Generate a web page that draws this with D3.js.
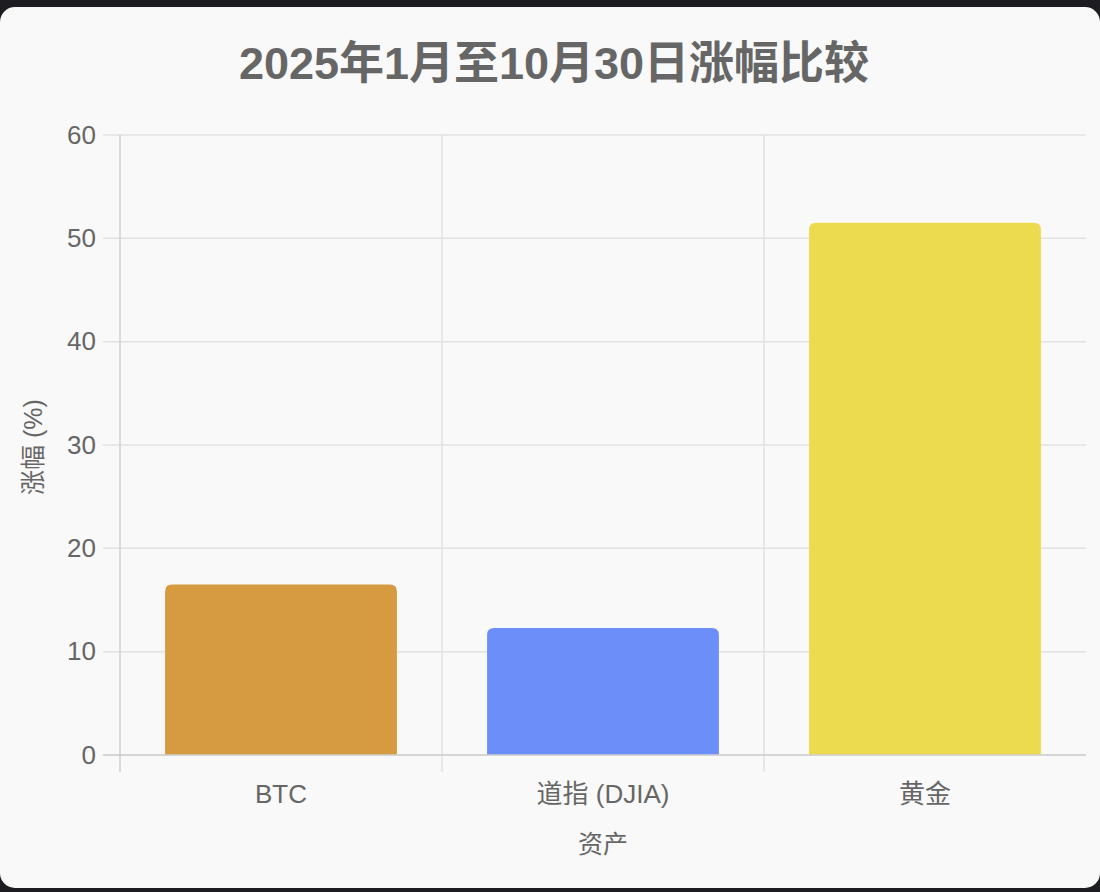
<!DOCTYPE html>
<html>
<head>
<meta charset="utf-8">
<script src="https://cdn.jsdelivr.net/npm/d3@7"></script>
<style>
  html, body { margin: 0; padding: 0; background: #1c1c21; }
  svg { display: block; }
  text { font-family: "Liberation Sans", "Noto Sans CJK SC", sans-serif; fill: #666; }
</style>
</head>
<body>
<svg id="chart"></svg>
<script>
var categories = ['BTC', '道指 (DJIA)', '黄金'];
var gains = [16.5, 12.3, 51.5];
var barColors = ['#D69B40', '#6B8EF8', '#EDDB4F'];
var yTicks = [0, 10, 20, 30, 40, 50, 60];

var $svg = {width: 1100, height: 892};
var margin = {left: 120, right: 1086, top: 135, bottom: 755};

function init () {
    $svg.main = (
        d3.select('svg#chart')
        .attr('width', $svg.width)
        .attr('height', $svg.height)
    );

    // card
    $svg.main.append('rect')
        .attr('x', 0).attr('y', 7)
        .attr('width', 1100).attr('height', 881)
        .attr('rx', 15)
        .attr('fill', '#f9f9f9');

    var x = d3.scaleBand()
        .domain(categories)
        .range([margin.left, margin.right]);
    var y = d3.scaleLinear()
        .domain([0, 60])
        .range([margin.bottom, margin.top]);

    drawGrid(x, y);
    drawBars(x, y);
    drawAxes(x, y);
    drawTexts();
}

function drawGrid (x, y) {
    var g = $svg.main.append('g');
    g.selectAll('line.h')
        .data(yTicks)
        .enter().append('line')
        .attr('x1', margin.left - 17)
        .attr('x2', margin.right)
        .attr('y1', d => y(d))
        .attr('y2', d => y(d))
        .attr('stroke', '#e2e2e2')
        .attr('stroke-width', 1.5);

    // category boundaries (skip the last one)
    var bounds = categories.map(c => x(c));
    g.selectAll('line.v')
        .data(bounds)
        .enter().append('line')
        .attr('x1', d => d)
        .attr('x2', d => d)
        .attr('y1', margin.top)
        .attr('y2', margin.bottom + 17)
        .attr('stroke', (d, i) => i === 0 ? '#cfcfcf' : '#e2e2e2')
        .attr('stroke-width', 1.5);
}

function drawBars (x, y) {
    var bw = x.bandwidth() * 0.72;
    var r = 7;
    $svg.main.append('g')
        .selectAll('path')
        .data(gains)
        .enter().append('path')
        .attr('fill', (d, i) => barColors[i])
        .attr('d', (d, i) => {
            var x0 = x(categories[i]) + (x.bandwidth() - bw) / 2;
            var x1 = x0 + bw;
            var top = y(d);
            var base = y(0);
            return [
                `M${x0},${base}`,
                `L${x0},${top + r}`,
                `Q${x0},${top} ${x0 + r},${top}`,
                `L${x1 - r},${top}`,
                `Q${x1},${top} ${x1},${top + r}`,
                `L${x1},${base}`,
                'Z'
            ].join(' ');
        });
}

function drawAxes (x, y) {
    // baseline
    $svg.main.append('line')
        .attr('x1', margin.left - 17).attr('x2', margin.right)
        .attr('y1', y(0)).attr('y2', y(0))
        .attr('stroke', '#cfcfcf')
        .attr('stroke-width', 1.5);

    var yAxis = $svg.main.append('g')
        .attr('transform', `translate(${margin.left - 24},0)`)
        .call(d3.axisLeft(y).tickValues(yTicks).tickSize(0).tickPadding(0));
    yAxis.select('.domain').remove();
    yAxis.selectAll('text')
        .style('font-size', '26px')
        .attr('fill', '#666');

    var xAxis = $svg.main.append('g')
        .attr('transform', `translate(0,${margin.bottom + 30})`)
        .call(d3.axisBottom(x).tickSize(0).tickPadding(0));
    xAxis.select('.domain').remove();
    xAxis.selectAll('text')
        .style('font-size', '26px')
        .attr('fill', '#666');
}

function drawTexts () {
    $svg.main.append('text')
        .attr('x', 554)
        .attr('y', 79)
        .attr('text-anchor', 'middle')
        .style('font-size', '45px')
        .style('font-weight', 'bold')
        .text('2025年1月至10月30日涨幅比较');

    $svg.main.append('text')
        .attr('x', 603)
        .attr('y', 853)
        .attr('text-anchor', 'middle')
        .style('font-size', '25px')
        .text('资产');

    $svg.main.append('text')
        .attr('transform', 'translate(42,447) rotate(-90)')
        .attr('text-anchor', 'middle')
        .style('font-size', '25px')
        .text('涨幅 (%)');
}

init();
</script>
</body>
</html>
